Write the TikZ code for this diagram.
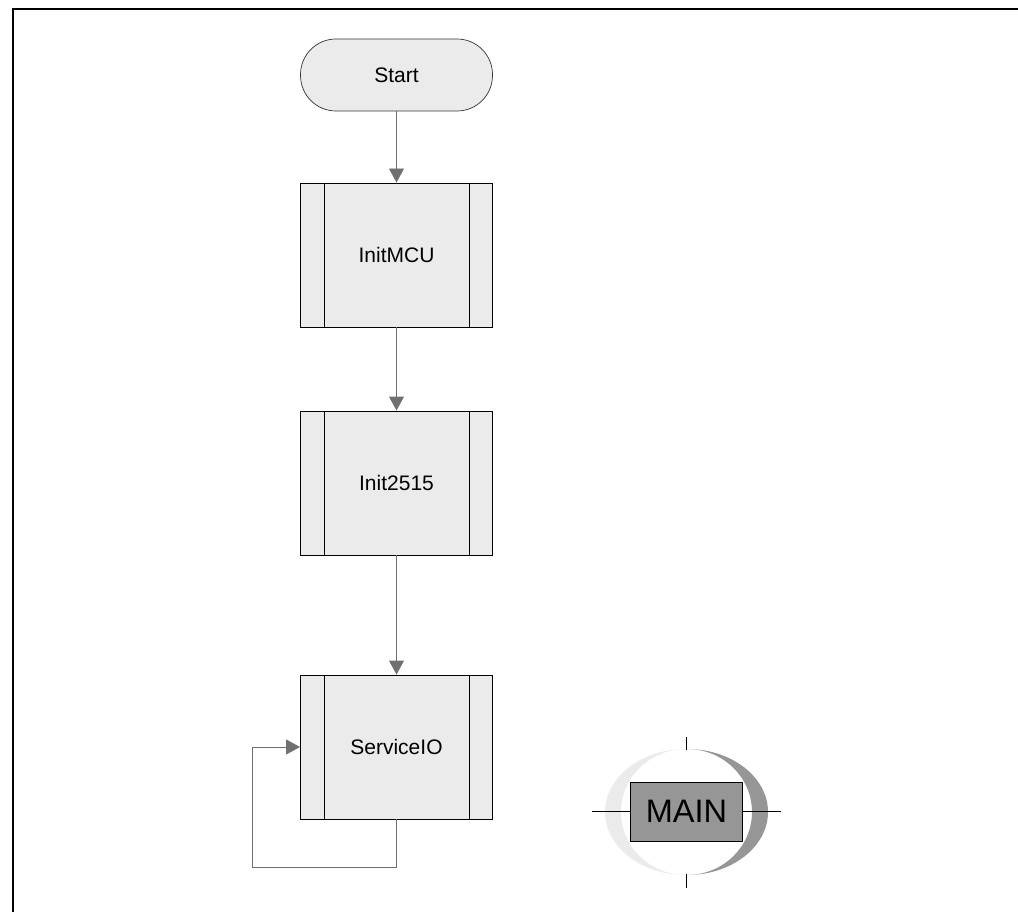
\documentclass[tikz,border=0pt]{standalone}
\usepackage{fontspec}
\setmainfont{Liberation Sans}
\usetikzlibrary{arrows.meta,positioning,calc}
\definecolor{boxfill}{HTML}{EBEBEB}
\definecolor{linkgrey}{HTML}{707070}
\definecolor{maingrey}{HTML}{969696}
\tikzset{
  x=1pt,y=-1pt,
  subbox/.style={draw=black,fill=boxfill,line width=0.9pt,minimum width=192pt,minimum height=144pt,inner sep=0pt,font=\fontsize{21}{24}\selectfont},
  startbox/.style={draw=black!80,fill=boxfill,line width=0.7pt,rounded corners=35.5pt,minimum width=192pt,minimum height=72pt,inner sep=0pt,font=\fontsize{21}{24}\selectfont},
  link/.style={draw=linkgrey,line width=0.9pt,-{Triangle[length=14pt,width=15pt,color=linkgrey]}},
  frameline/.style={draw=black,line width=2.4pt},
  tick/.style={draw=black,line width=0.8pt}
}
\begin{document}
\begin{tikzpicture}
\useasboundingbox (0,0) rectangle (1018,912);
\draw[frameline] (1018,9) -- (13,9) -- (13,912);
\node[startbox] (start) at (396.5,75) {Start};
\node[subbox] (mcu) at (396.5,255) {InitMCU};
\node[subbox] (i2515) at (396.5,483) {Init2515};
\node[subbox] (sio) at (396.5,747) {ServiceIO};
\foreach \n in {mcu,i2515,sio}{
  \draw[line width=0.9pt] ($(\n.north west)+(24,0)$) -- ($(\n.south west)+(24,0)$);
  \draw[line width=0.9pt] ($(\n.north east)+(-24,0)$) -- ($(\n.south east)+(-24,0)$);
}
\draw[link] (start) -- (mcu);
\draw[link] (mcu) -- (i2515);
\draw[link] (i2515) -- (sio);
\coordinate (loopa) at ($(sio.south)+(0,48)$);
\coordinate (loopb) at ($(sio.west)+(-48,0)$);
\draw[link] (sio.south) -- (loopa) -| (loopb) -- (sio.west);
% MAIN logo
\fill[boxfill] (686,749) arc[start angle=-90,end angle=-270,x radius=81,y radius=63]
  arc[start angle=-270,end angle=-90,x radius=65,y radius=63] -- cycle;
\fill[maingrey] (687,749) arc[start angle=-90,end angle=90,x radius=81,y radius=63]
  arc[start angle=90,end angle=-90,x radius=65,y radius=63] -- cycle;
\node[draw=black,fill=maingrey,line width=0.8pt,minimum width=112pt,minimum height=59pt,inner sep=0pt,font=\fontsize{32.5}{36}\selectfont] (mainbox) at (686.5,811.5) {MAIN};
\coordinate (tl) at (592,811.5);\coordinate (tr) at (781,811.5);
\coordinate (tt) at (686.5,737);\coordinate (tb) at (686.5,888);
\coordinate (ttb) at (686.5,750);\coordinate (tbt) at (686.5,874);
\draw[tick] (tl) -- (mainbox.west);
\draw[tick] (mainbox.east) -- (tr);
\draw[tick] (tt) -- (ttb);
\draw[tick] (tbt) -- (tb);
\end{tikzpicture}
\end{document}
